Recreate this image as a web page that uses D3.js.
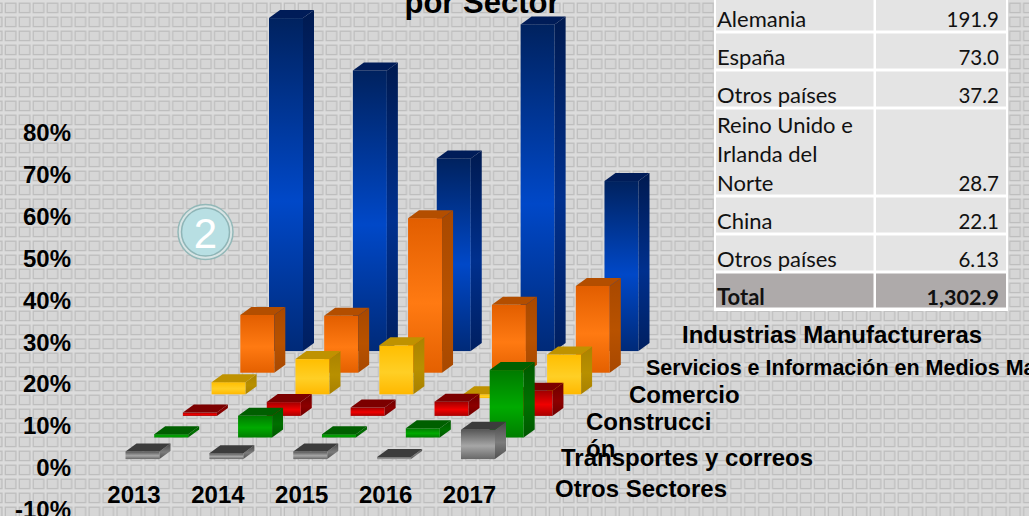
<!DOCTYPE html>
<html><head><meta charset="utf-8">
<script src="https://cdn.jsdelivr.net/npm/d3@7/dist/d3.min.js"></script>
<style>
html,body{margin:0;padding:0;background:#d8d8d8;overflow:hidden}
svg{display:block}
.lab{font-family:"Liberation Sans",Arial,sans-serif;font-weight:bold;fill:#000}
.axis text{font-family:"Liberation Sans",Arial,sans-serif;font-weight:bold;font-size:24px;fill:#000}
.axis path,.axis line{display:none}
.tb{font-family:Lato,sans-serif;fill:#111}
</style></head><body>
<svg id="c" width="1029" height="516"></svg>
<script>
const years = ["2013","2014","2015","2016","2017"];
const sectorsBackToFront = ["Industrias Manufactureras","Servicios e Información en Medios Masivos","Comercio","Construcción","Transportes y correos","Otros Sectores"];
const industrias = [79.5,67,46,78,40.6];
const servicios  = [13.8,13.6,36.9,16.2,20.7];
const comercio   = [2.9,8.4,11.7,-0.9,9.5];
const construccion = [0.8,3.3,2,3.4,6];
const transportes  = [0.8,5.2,0.8,2.2,16.1];
const otros        = [1.8,1.4,1.8,0.5,7];
const seriesValues = [industrias,servicios,comercio,construccion,transportes,otros];
const yTicks = [-10,0,10,20,30,40,50,60,70,80];
const tableCountries = ["Alemania","España","Otros países","Reino Unido e|Irlanda del|Norte","China","Otros países","Total"];
const tableValues = ["191.9","73.0","37.2","28.7","22.1","6.13","1,302.9"];

const palette = [
 {id:"blue",  f:["#00225f","#0048c8","#002a78"],s:["#001a50","#00308e","#001f60"],t:"#001c58"},
 {id:"orange",f:["#e25e00","#ff7a12","#e46000"],s:["#a84800","#b85200","#a84800"],t:"#b34e00"},
 {id:"yellow",f:["#ffbe00","#ffcf25","#ffb800"],s:["#aa8200","#b89000","#a88000"],t:"#bf9200"},
 {id:"red",   f:["#a00000","#f00000","#a80000"],s:["#6e0000","#8c0000","#6e0000"],t:"#7c0000"},
 {id:"green", f:["#007a00","#00aa00","#007e00"],s:["#005800","#007000","#005800"],t:"#005f00"},
 {id:"gray",  f:["#585858","#a6a6a6","#686868"],s:["#484848","#7c7c7c","#505050"],t:"#3c3c3c"}
];

const svg = d3.select("#c");
const defs = svg.append("defs");
const pat = defs.append("pattern").attr("id","bg").attr("patternUnits","userSpaceOnUse")
  .attr("width",13.95).attr("height",14).attr("x",0).attr("y",0);
pat.append("rect").attr("width",14).attr("height",14).attr("fill","#dcdcdc");
pat.append("rect").attr("x",5.3).attr("y",3.2).attr("width",10.6).attr("height",9.4)
  .attr("fill","#d6d6d6").attr("stroke","#bebebe").attr("stroke-width",1.3);
pat.append("rect").attr("x",-8.65).attr("y",3.2).attr("width",10.6).attr("height",9.4)
  .attr("fill","#d6d6d6").attr("stroke","#bebebe").attr("stroke-width",1.3);
svg.append("rect").attr("width",1029).attr("height",516).attr("fill","url(#bg)");

palette.forEach(p=>{
  [["f",p.f],["s",p.s]].forEach(([k,c])=>{
    const g=defs.append("linearGradient").attr("id",p.id+k).attr("x1",0).attr("x2",0).attr("y1",0).attr("y2",1);
    g.append("stop").attr("offset","0%").attr("stop-color",c[0]);
    g.append("stop").attr("offset","55%").attr("stop-color",c[1]);
    g.append("stop").attr("offset","100%").attr("stop-color",c[2]);
  });
});

const y = d3.scaleLinear().domain([-10,80]).range([509,132]);
const xYear = d3.scalePoint().domain(years).range([125.5,461]);
const depth = d3.scalePoint().domain(sectorsBackToFront.slice().reverse()).range([0,5]);
const depthDx = d3.scaleLinear().domain([0,5]).range([0,143.5]);
const depthDy = d3.scaleLinear().domain([0,5]).range([8,116]);
const barW = 34, sideX = 11, sideY = 8;

const bars = svg.append("g");
sectorsBackToFront.forEach((name,si)=>{
  const d = depth(name), p = palette[si];
  const g = bars.append("g").attr("class","series");
  seriesValues[si].forEach((v,yi)=>{
    const x0 = xYear(years[yi]) + depthDx(d);
    const yBase = y(0) - depthDy(d);
    const top = Math.min(yBase, yBase - (y(0)-y(v)));
    const bottom = Math.max(yBase, yBase - (y(0)-y(v)));
    g.append("rect").attr("x",x0).attr("y",top).attr("width",barW).attr("height",bottom-top).attr("fill",`url(#${p.id}f)`);
    g.append("polygon").attr("points",[[x0+barW,top],[x0+barW+sideX,top-sideY],[x0+barW+sideX,bottom-sideY],[x0+barW,bottom]].join(" ")).attr("fill",`url(#${p.id}s)`);
    g.append("polygon").attr("points",[[x0,top],[x0+sideX,top-sideY],[x0+barW+sideX,top-sideY],[x0+barW,top]].join(" ")).attr("fill",p.t);
  });
});

svg.append("g").attr("class","axis").attr("transform","translate(73,0)")
  .call(d3.axisLeft(y).tickValues(yTicks).tickFormat(d=>d+"%").tickSize(0).tickPadding(2))
  .selectAll("text").attr("dy","0.36em");
svg.append("g").attr("class","axis").attr("transform","translate(8,0)")
  .call(d3.axisBottom(xYear).tickSize(0).tickPadding(0))
  .selectAll("text").attr("y",503).attr("dy",0);

svg.append("text").attr("class","lab").attr("x",482).attr("y",13)
  .attr("text-anchor","middle").attr("font-size",31).text("por Sector");

const sectorLabels = [
 ["Industrias Manufactureras",682,343,24],
 ["Servicios e Información en Medios Masivos",646,375,21.5],
 ["Comercio",629,402.5,24],
 ["Construcci",586,430,24],
 ["ón",586,457,24],
 ["Transportes y correos",561,466,24],
 ["Otros Sectores",555,497,24]
];
svg.selectAll("text.sec").data(sectorLabels).join("text").attr("class","lab sec")
  .attr("x",d=>d[1]).attr("y",d=>d[2]).attr("font-size",d=>d[3]).text(d=>d[0]);

const rowEdges = [-3,32,70,108,196,234,272,309];
const tableG = svg.append("g");
tableG.append("rect").attr("x",714).attr("y",-3).attr("width",294).attr("height",314).attr("fill","#fff");
const colX = [[716,873.5],[876,1006]];
tableCountries.forEach((c,i)=>{
  const top=rowEdges[i]+1.5, bot=rowEdges[i+1]-1.5, isTot=i===6;
  colX.forEach(([a,b])=>tableG.append("rect").attr("x",a).attr("y",top).attr("width",b-a).attr("height",bot-top).attr("fill",isTot?"#aeaaaa":"#e4e4e4"));
  const lines=c.split("|");
  const base=rowEdges[i+1]-(isTot?4.5:5.5);
  lines.forEach((l,j)=>tableG.append("text").attr("class","tb").attr("x",717)
    .attr("y",base-(lines.length-1-j)*29).attr("font-size",22).attr("font-weight",isTot?"bold":"normal").text(l));
  tableG.append("text").attr("class","tb").attr("x",999).attr("y",base).attr("text-anchor","end")
    .attr("font-size",isTot?21.5:20.5).attr("font-weight",isTot?"bold":"normal").text(tableValues[i]);
});

const b = svg.append("g").attr("transform","translate(205.5,232)");
b.append("circle").attr("r",27.5).attr("fill","#d8e4e4").attr("stroke","#93b8b8").attr("stroke-width",1.5);
b.append("circle").attr("r",24).attr("fill","#b8dfe3").attr("stroke","#8fb5b7").attr("stroke-width",1.5);
b.append("text").attr("text-anchor","middle").attr("y",16).attr("fill","#fff")
  .attr("font-family","'Liberation Sans',sans-serif").attr("font-size",42).text("2");
</script>
</body></html>
